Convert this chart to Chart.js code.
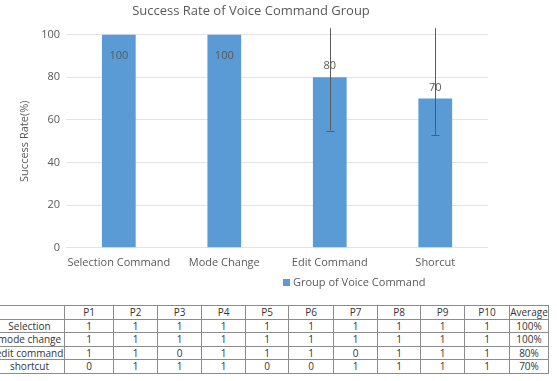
<!DOCTYPE html>
<html>
<head>
<meta charset="utf-8">
<script src="https://cdn.jsdelivr.net/npm/chart.js@4.4.0/dist/chart.umd.min.js"></script>
<style>
body { margin:0; width:557px; height:381px; overflow:hidden; background:#fff; font-family:"Open Sans", sans-serif; position:relative; }
#chartBox { position:absolute; left:0; top:0; width:557px; height:300px; }
#results { position:absolute; left:-6px; top:305px; border-collapse:collapse; table-layout:fixed; font-size:10px; color:#333; }
#results td { border:1px solid #8c8c8c; text-align:center; padding:0; height:12.5px; line-height:12px; white-space:nowrap; overflow:hidden; }
#results tr:first-child td { height:14px; }
</style>
</head>
<body>
<div id="chartBox"><canvas id="rateChart"></canvas></div>
<table id="results"></table>
<script>
const categories = ['Selection Command', 'Mode Change', 'Edit Command', 'Shorcut'];
const successRates = [100, 100, 80, 70];
const errorLow = [null, null, 55, 53];
const errorHigh = [null, null, 103, 103];
const seriesName = 'Group of Voice Command';

const participants = ['P1', 'P2', 'P3', 'P4', 'P5', 'P6', 'P7', 'P8', 'P9', 'P10'];
const rowLabels = ['Selection', 'mode change', 'edit command', 'shortcut'];
const trialResults = [
    [1, 1, 1, 1, 1, 1, 1, 1, 1, 1],
    [1, 1, 1, 1, 1, 1, 1, 1, 1, 1],
    [1, 1, 0, 1, 1, 1, 0, 1, 1, 1],
    [0, 1, 1, 1, 0, 0, 1, 1, 1, 1]
];
const averages = ['100%', '100%', '80%', '70%'];

const barColor = '#5b9bd5';
const textColor = '#595959';

// table under the chart
function buildTable() {
    const table = document.getElementById('results');
    const widths = [70, 49, 44, 44, 44, 43, 45, 44, 43, 44, 45, 39];
    const cg = document.createElement('colgroup');
    widths.forEach(w => {
        const c = document.createElement('col');
        c.style.width = w + 'px';
        cg.appendChild(c);
    });
    table.appendChild(cg);
    const head = document.createElement('tr');
    ['', ...participants, 'Average'].forEach(t => {
        const td = document.createElement('td');
        td.textContent = t;
        head.appendChild(td);
    });
    table.appendChild(head);
    rowLabels.forEach((label, i) => {
        const tr = document.createElement('tr');
        [label, ...trialResults[i], averages[i]].forEach(t => {
            const td = document.createElement('td');
            td.textContent = t;
            tr.appendChild(td);
        });
        table.appendChild(tr);
    });
}

const errorBars = {
    id: 'errorBars',
    afterDatasetsDraw(chart) {
        const ctx = chart.ctx;
        const y = chart.scales.y;
        const meta = chart.getDatasetMeta(0);
        ctx.save();
        ctx.strokeStyle = '#5a5a5a';
        ctx.lineWidth = 1;
        meta.data.forEach((bar, i) => {
            if (errorLow[i] == null) return;
            const x = Math.round(bar.x) + 0.5;
            const yLow = y.getPixelForValue(errorLow[i]);
            const yHigh = y.getPixelForValue(errorHigh[i]);
            ctx.beginPath();
            ctx.moveTo(x, yHigh);
            ctx.lineTo(x, yLow);
            ctx.moveTo(x - 4, Math.round(yLow) + 0.5);
            ctx.lineTo(x + 4, Math.round(yLow) + 0.5);
            ctx.stroke();
        });
        ctx.restore();
    }
};

const valueLabels = {
    id: 'valueLabels',
    afterDatasetsDraw(chart) {
        const ctx = chart.ctx;
        const meta = chart.getDatasetMeta(0);
        ctx.save();
        ctx.font = '11px "Open Sans"';
        ctx.fillStyle = textColor;
        ctx.textAlign = 'center';
        ctx.textBaseline = 'middle';
        meta.data.forEach((bar, i) => {
            const v = successRates[i];
            const ty = v >= 100 ? bar.y + 21 : bar.y - 11;
            ctx.fillText(v, bar.x, ty);
        });
        ctx.restore();
    }
};

const customLegend = {
    id: 'customLegend',
    afterDraw(chart) {
        const ctx = chart.ctx;
        ctx.save();
        ctx.fillStyle = barColor;
        ctx.fillRect(283, 279, 7, 7);
        ctx.font = '11px "Open Sans"';
        ctx.fillStyle = textColor;
        ctx.textBaseline = 'middle';
        ctx.fillText(seriesName, 293, 282.5);
        ctx.restore();
    }
};

buildTable();

new Chart(document.getElementById('rateChart'), {
    type: 'bar',
    data: {
        labels: categories,
        datasets: [{
            label: seriesName,
            data: successRates,
            backgroundColor: barColor,
            categoryPercentage: 1,
            barPercentage: 0.32
        }]
    },
    options: {
        responsive: true,
        maintainAspectRatio: false,
        animation: false,
        layout: { padding: { left: 14, right: 69, top: 0, bottom: 23 } },
        scales: {
            x: {
                grid: { display: false, drawTicks: false },
                border: { display: false },
                ticks: { color: textColor, font: { family: 'Open Sans', size: 11 }, padding: 8, maxRotation: 0, autoSkip: false }
            },
            y: {
                min: 0,
                max: 100,
                ticks: { stepSize: 20, color: textColor, font: { family: 'Open Sans', size: 11 }, padding: 6 },
                grid: { color: '#e3e3e3', drawTicks: false },
                border: { display: false },
                title: { display: true, text: 'Success Rate(%)', color: textColor, font: { family: 'Open Sans', size: 11 }, padding: 4 }
            }
        },
        plugins: {
            legend: { display: false },
            tooltip: { enabled: false },
            title: {
                display: true,
                text: 'Success Rate of Voice Command Group',
                color: textColor,
                font: { family: 'Open Sans', size: 13, weight: 'normal' },
                padding: { top: 3, bottom: 16 }
            }
        }
    },
    plugins: [errorBars, valueLabels, customLegend]
});
</script>
</body>
</html>
